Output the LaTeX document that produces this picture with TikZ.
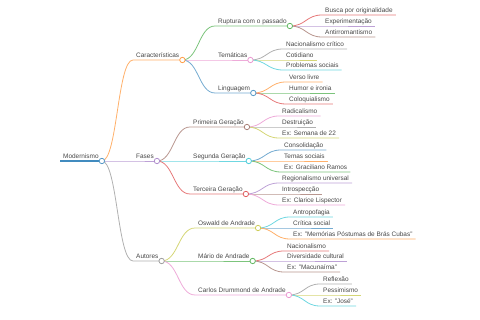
\documentclass[tikz,border=0pt]{standalone}
\usepackage{fontspec}
\setmainfont{Liberation Sans}
\usetikzlibrary{calc}
\definecolor{mblue}{HTML}{1F77B4}
\definecolor{morange}{HTML}{FF7F0E}
\definecolor{mgreen}{HTML}{2CA02C}
\definecolor{mred}{HTML}{D62728}
\definecolor{mpurple}{HTML}{9467BD}
\definecolor{mbrown}{HTML}{8C564B}
\definecolor{mpink}{HTML}{E377C2}
\definecolor{mgray}{HTML}{7F7F7F}
\definecolor{molive}{HTML}{BCBD22}
\definecolor{mcyan}{HTML}{17BECF}
\tikzset{
 lbl/.style={anchor=south west,inner xsep=3pt,inner ysep=2pt,text depth=0pt,text=black!72,
  font=\fontsize{6.45}{7}\selectfont},
 edge/.style={line width=.8pt,draw=#1!62},
 dot/.style={line width=.8pt,draw=#1!75,fill=white},
}
% curve from the parent's dot to the child's underline, then the underline
\newcommand\linkto[3]{%
 \draw[edge=#3] let \p1=(#1.south east),\p2=(#2.south west) in
  (\p1) .. controls ({(\x1+\x2)/2},\y1) and ({(\x1+\x2)/2},\y2) .. (\p2) -- (#2.south east);}

\begin{document}
\begin{tikzpicture}[x=1pt,y=-1pt]
 \useasboundingbox (0,0) rectangle (480,320);
 % root and branches
 \node[lbl] (mod) at (60,161) {Modernismo};
 \node[lbl] (car) at (133,60) {Características};
 \node[lbl] (fas) at (133,161) {Fases};
 \node[lbl] (aut) at (133,261) {Autores};
 \node[lbl] (rup) at (215,26) {Ruptura com o passado};
 \node[lbl] (tem) at (215,60) {Temáticas};
 \node[lbl] (lin) at (215,93) {Linguagem};
 \node[lbl] (pri) at (190,127) {Primeira Geração};
 \node[lbl] (seg) at (190,161) {Segunda Geração};
 \node[lbl] (ter) at (190,194) {Terceira Geração};
 \node[lbl] (osw) at (195,228) {Oswald de Andrade};
 \node[lbl] (mar) at (195,261) {Mário de Andrade};
 \node[lbl] (cdr) at (195,295) {Carlos Drummond de Andrade};
 \draw[edge=mblue,draw=mblue!85,line width=1.5pt] (mod.south west) -- (mod.south east);
 \foreach \pa/\nm/\cl in {mod/car/morange,mod/fas/mpurple,mod/aut/mgray,
   car/rup/mgreen,car/tem/mpink,car/lin/mblue,
   fas/pri/mbrown,fas/seg/mcyan,fas/ter/mred,
   aut/osw/molive,aut/mar/mgreen,aut/cdr/mpink}
  {\linkto{\pa}{\nm}{\cl}}
 % leaves
 \foreach \pa/\nm/\xx/\yy/\cl/\tx in {
   rup/b1/322/15/mred/Busca por originalidade,
   rup/b2/322/26/mpurple/Experimentação,
   rup/b3/322/37/mbrown/Antirromantismo,
   tem/t1/283/49/mgray/Nacionalismo crítico,
   tem/t2/283/60/molive/Cotidiano,
   tem/t3/283/70/mcyan/Problemas sociais,
   lin/l1/286/82/morange/Verso livre,
   lin/l2/286/93/mgreen/Humor e ironia,
   lin/l3/286/104/mred/Coloquialismo,
   pri/p1/279/116/mpink/Radicalismo,
   pri/p2/279/127/mgray/Destruição,
   pri/p3/279/138/molive/Ex: Semana de 22,
   seg/s1/281/150/mblue/Consolidação,
   seg/s2/281/161/morange/Temas sociais,
   seg/s3/281/172/mgreen/Ex: Graciliano Ramos,
   ter/r1/279/183/mpurple/Regionalismo universal,
   ter/r2/279/194/mbrown/Introspecção,
   ter/r3/279/205/mpink/Ex: Clarice Lispector,
   osw/o1/290/217/mcyan/Antropofagia,
   osw/o2/290/228/mblue/Crítica social,
   osw/o3/290/239/morange/Ex: "Memórias Póstumas de Brás Cubas",
   mar/m1/284/251/mred/Nacionalismo,
   mar/m2/284/261/mpurple/Diversidade cultural,
   mar/m3/284/272/mbrown/Ex: "Macunaíma",
   cdr/c1/320/284/mgray/Reflexão,
   cdr/c2/320/295/molive/Pessimismo,
   cdr/c3/320/306/mcyan/Ex: "José"}
  {\node[lbl] (\nm) at (\xx,\yy) {\tx};
   \linkto{\pa}{\nm}{\cl}}
 % dots on top
 \foreach \nm/\cl in {mod/mblue,car/morange,fas/mpurple,aut/mgray,rup/mgreen,tem/mpink,
   lin/mblue,pri/mbrown,seg/mcyan,ter/mred,osw/molive,mar/mgreen,cdr/mpink}
  {\draw[dot=\cl] (\nm.south east) circle (2.7pt);}
\end{tikzpicture}
\end{document}
